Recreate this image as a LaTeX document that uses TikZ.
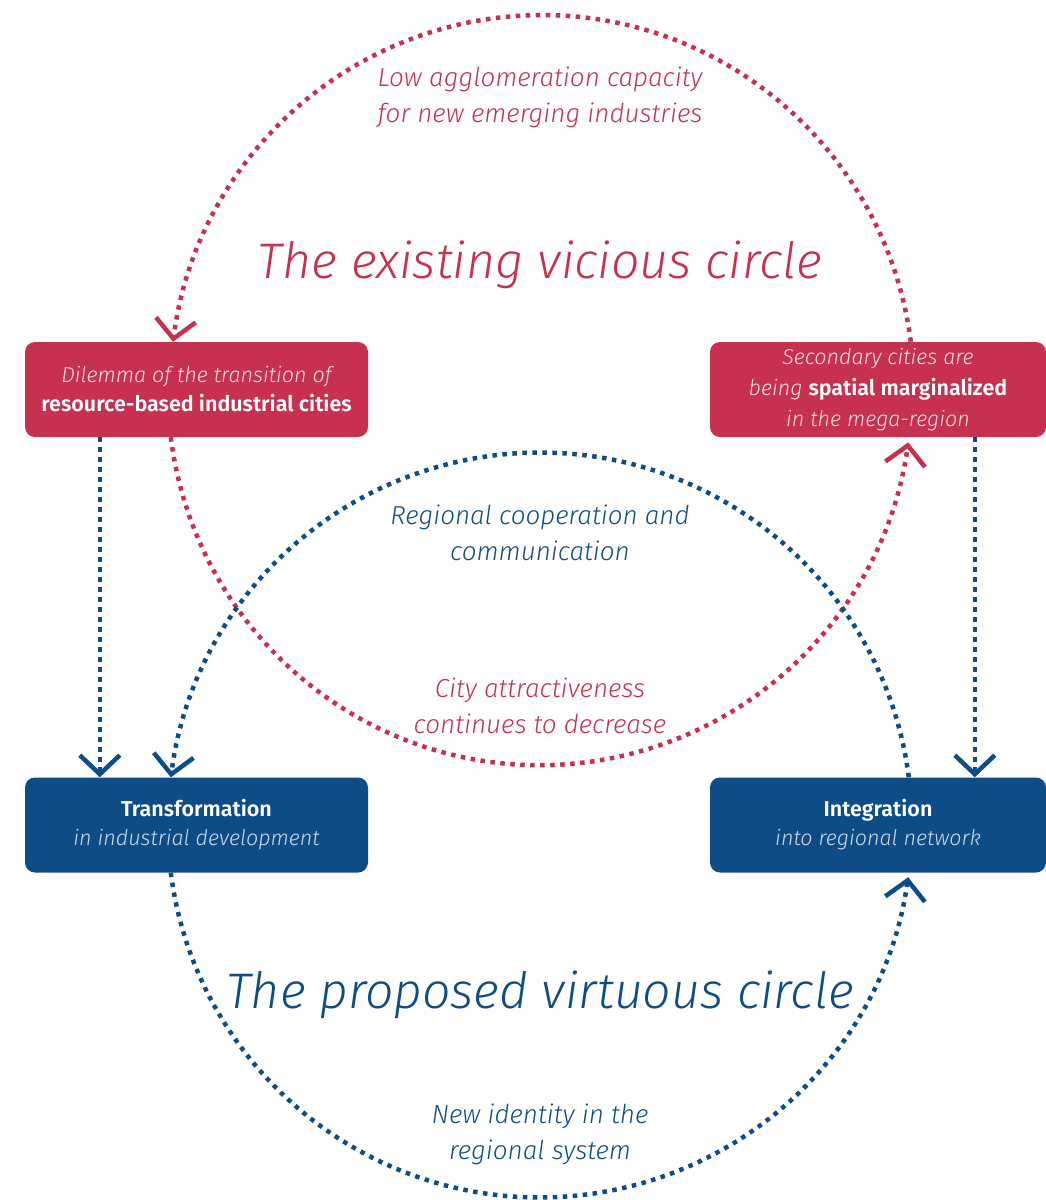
\documentclass[tikz,border=0pt]{standalone}
\usepackage{fontspec}
\setmainfont{Fira Sans Light}[ItalicFont={Fira Sans Light Italic}, BoldFont={Fira Sans SemiBold}, BoldItalicFont={Fira Sans SemiBold Italic}]
\usetikzlibrary{arrows.meta,calc}
\definecolor{cred}{HTML}{C7304F}
\definecolor{cblue}{HTML}{0E4C88}
\begin{document}
\begin{tikzpicture}[x=1pt,y=1pt,
  box/.style={rounded corners=10pt, minimum width=343pt, minimum height=95pt, inner sep=0pt, align=center, text=white, font=\fontsize{21.5}{29}\selectfont},
  redbox/.style={box, fill=cred},
  bluebox/.style={box, fill=cblue},
  dots/.style={line width=4.5pt, dash pattern=on 4.5pt off 5.5pt},
  chev/.style={-{Straight Barb[length=19pt,width=40pt,line width=4.5pt]}},
  lbl/.style={font=\fontsize{26}{36}\selectfont\itshape, align=center},
  ttl/.style={font=\fontsize{50}{56}\selectfont\itshape}]
\useasboundingbox (0,0) rectangle (1046,-1200);

\node[redbox] (rl) at (196.5,-389.5) {{\itshape\color{white!85!cred}Dilemma of the transition of}\\\textbf{resource-based industrial cities}};
\node[redbox, minimum width=336pt, font=\fontsize{21.5}{31}\selectfont] (rr) at (878,-389.5) {{\itshape\color{white!85!cred}Secondary cities are}\\{\itshape\color{white!85!cred}being} \textbf{spatial marginalized}\\{\itshape\color{white!85!cred}in the mega-region}};
\node[bluebox] (bl) at (196.5,-825) {\textbf{Transformation}\\{\itshape\color{white!80!cblue}in industrial development}};
\node[bluebox, minimum width=336pt] (br) at (878,-825) {\textbf{Integration}\\{\itshape\color{white!80!cblue}into regional network}};

\node[lbl, text=cred] (l1) at (540,-97) {Low agglomeration capacity\\for new emerging industries};
\node[ttl, text=cred] (t1) at (540,-265) {The existing vicious circle};
\node[lbl, text=cblue] (l2) at (540,-533) {Regional cooperation and\\communication};
\node[lbl, text=cred] (l3) at (540,-706) {City attractiveness\\continues to decrease};
\node[ttl, text=cblue] (t2) at (540,-995) {The proposed virtuous circle};
\node[lbl, text=cblue] (l4) at (540,-1134) {New identity in the\\regional system};

\draw[cred, dots, chev] ($(rr.north west)+(201,0)$) arc[start angle=7.4, end angle=172.6, x radius=372pt, y radius=375pt];
\draw[cred, dots, chev] ($(rl.south west)+(146,0)$) arc[start angle=187.2, end angle=352.0, x radius=372pt, y radius=375pt];
\draw[cblue, dots, chev] ($(br.north west)+(199,0)$) arc[start angle=7.3, end angle=172.7, radius=372pt];
\draw[cblue, dots, chev] ($(bl.south west)+(146,0)$) arc[start angle=187.3, end angle=352.0, radius=372pt];
\draw[cblue, dots, chev] ($(rl.south west)+(75,0)$) -- ($(bl.north west)+(75,0)$);
\draw[cblue, dots, chev] ($(rr.south west)+(265,0)$) -- ($(br.north west)+(265,0)$);
\end{tikzpicture}
\end{document}
